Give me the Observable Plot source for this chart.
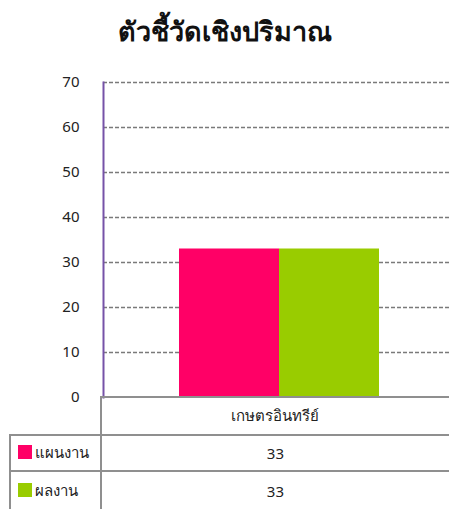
<!DOCTYPE html>
<html>
<head>
<meta charset="utf-8">
<script src="https://cdn.jsdelivr.net/npm/d3@7"></script>
<script src="https://cdn.jsdelivr.net/npm/@observablehq/plot@0.6"></script>
<style>
  html, body { margin: 0; padding: 0; background: #fff; overflow: hidden; }
  body { width: 449px; height: 509px; position: relative; font-family: "Noto Sans", "DejaVu Sans", sans-serif; color: #222; }
  #title { position: absolute; left: 0; top: 11px; width: 449px; text-align: center; font-size: 27px; font-weight: bold; color: #111; line-height: 40px; }
  #chart { position: absolute; left: 0; top: 60px; }
  #chart svg { max-width: none !important; }
  #tbl { position: absolute; left: 9px; top: 396px; border-collapse: collapse; font-size: 15px; }
  #tbl td { border: 2px solid #8f8f8f; padding: 0; }
  #tbl td.lab { width: 91px; height: 36px; white-space: nowrap; padding-left: 7px; box-sizing: border-box; }
  #tbl td.val { width: 352px; text-align: center; border-right: none; }
  #tbl tr.cat td { height: 36px; }
  #tbl tr.cat td.lab { border-left: none; border-top: none; }
  #tbl tr.r2 td { height: 37px; }
  .key { display: inline-block; width: 14px; height: 14px; vertical-align: -1px; margin-right: 3px; }
</style>
</head>
<body>
<div id="title"></div>
<div id="chart"></div>
<table id="tbl"></table>
<script>
const titleText = "ตัวชี้วัดเชิงปริมาณ";
const categories = ["เกษตรอินทรีย์"];
const seriesNames = ["แผนงาน", "ผลงาน"];
const seriesColors = ["#FF0066", "#99CC00"];
const planValues = [33];
const resultValues = [33];
const yTicks = [0, 10, 20, 30, 40, 50, 60, 70];

document.getElementById("title").textContent = titleText;

const data = [];
categories.forEach((c, i) => {
  data.push({category: c, series: seriesNames[0], value: planValues[i]});
  data.push({category: c, series: seriesNames[1], value: resultValues[i]});
});

const chart = Plot.plot({
  width: 455,
  height: 352,
  marginTop: 22,
  marginBottom: 15,
  marginLeft: 103,
  marginRight: 0,
  style: {fontFamily: "'Noto Sans', 'DejaVu Sans', sans-serif", fontSize: "15px", color: "#222", background: "transparent", maxWidth: "none"},
  x: {domain: seriesNames, paddingInner: 0, paddingOuter: 0.751, axis: null},
  y: {domain: [0, 70], ticks: yTicks, label: null},
  color: {domain: seriesNames, range: seriesColors},
  marks: [
    Plot.ruleY(yTicks.filter(d => d > 0), {stroke: "#7a7a7a", strokeWidth: 1.6, strokeDasharray: "4,2"}),
    Plot.barY(data, {x: "series", y: "value", fill: "series"}),
    Plot.axisY({ticks: yTicks, tickSize: 0, tickPadding: 24, label: null, fontSize: 15, fill: "#222"}),
    Plot.frame({anchor: "left", stroke: "#7652a8", strokeWidth: 2})
  ]
});
document.getElementById("chart").appendChild(chart);

const tbl = document.getElementById("tbl");
let html = '<tr class="cat"><td class="lab"></td>' + categories.map(c => `<td class="val">${c}</td>`).join("") + '</tr>';
const vals = [planValues, resultValues];
seriesNames.forEach((s, i) => {
  html += `<tr class="${i === 0 ? 'r1' : 'r2'}"><td class="lab"><span class="key" style="background:${seriesColors[i]}"></span>${s}</td>` +
    vals[i].map(v => `<td class="val">${v}</td>`).join("") + '</tr>';
});
tbl.innerHTML = html;
</script>
</body>
</html>
